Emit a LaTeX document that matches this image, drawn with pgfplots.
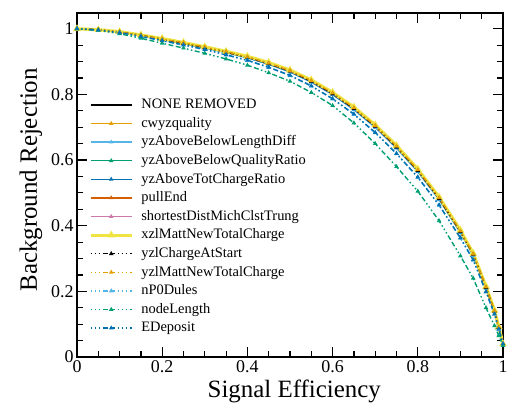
\documentclass[border=0pt]{standalone}
\usepackage{fontspec}
\setmainfont{Liberation Serif}
\usepackage{pgfplots}
\usepackage{pgfplotstable}
\pgfplotsset{compat=1.18}

\definecolor{cBlack}{HTML}{000000}
\definecolor{cOrange}{HTML}{E69F00}
\definecolor{cSky}{HTML}{56B4E9}
\definecolor{cGreen}{HTML}{009E73}
\definecolor{cBlue}{HTML}{0072B2}
\definecolor{cVerm}{HTML}{D55E00}
\definecolor{cPink}{HTML}{CC79A7}
\definecolor{cYellow}{HTML}{F0E442}

% ROC curves: background rejection vs signal efficiency, one column per removed variable
\pgfplotstableread{
x     none  cwyz  ablen abqual atot  pull  short xzl   ystart yzlm  np0   node  edep
0.00  1.000 1.000 1.000 1.000 1.000 1.000 1.000 1.000 1.000 1.000 1.000 1.000 1.000
0.05  0.997 0.997 0.997 0.997 0.997 0.997 0.997 0.997 0.997 0.997 0.996 0.995 0.996
0.10  0.990 0.991 0.990 0.990 0.990 0.991 0.990 0.991 0.990 0.990 0.988 0.985 0.988
0.15  0.980 0.981 0.979 0.980 0.980 0.981 0.980 0.981 0.980 0.980 0.976 0.971 0.977
0.20  0.968 0.969 0.967 0.968 0.968 0.969 0.968 0.970 0.968 0.969 0.963 0.956 0.964
0.25  0.956 0.957 0.955 0.956 0.955 0.957 0.956 0.958 0.956 0.957 0.950 0.941 0.951
0.30  0.943 0.944 0.941 0.943 0.942 0.945 0.943 0.945 0.943 0.944 0.936 0.925 0.937
0.35  0.929 0.930 0.927 0.929 0.928 0.931 0.929 0.931 0.929 0.930 0.920 0.908 0.921
0.40  0.913 0.915 0.911 0.913 0.912 0.915 0.913 0.916 0.913 0.914 0.903 0.889 0.904
0.45  0.894 0.896 0.892 0.894 0.892 0.897 0.894 0.897 0.894 0.895 0.882 0.866 0.883
0.50  0.871 0.873 0.868 0.871 0.869 0.874 0.871 0.874 0.871 0.872 0.857 0.840 0.858
0.55  0.840 0.843 0.837 0.840 0.838 0.844 0.840 0.844 0.840 0.842 0.825 0.806 0.826
0.60  0.802 0.805 0.799 0.802 0.800 0.807 0.802 0.806 0.802 0.804 0.786 0.766 0.787
0.65  0.757 0.760 0.753 0.757 0.755 0.762 0.757 0.761 0.757 0.759 0.739 0.713 0.740
0.70  0.703 0.706 0.699 0.703 0.701 0.709 0.703 0.707 0.703 0.705 0.683 0.650 0.684
0.75  0.640 0.643 0.636 0.640 0.638 0.646 0.640 0.644 0.640 0.642 0.619 0.580 0.620
0.80  0.568 0.571 0.564 0.568 0.566 0.574 0.568 0.572 0.568 0.570 0.547 0.505 0.548
0.85  0.483 0.486 0.479 0.483 0.481 0.488 0.483 0.487 0.483 0.485 0.462 0.415 0.463
0.90  0.382 0.385 0.378 0.382 0.380 0.386 0.382 0.386 0.382 0.384 0.362 0.308 0.363
0.93  0.313 0.315 0.309 0.313 0.311 0.316 0.313 0.316 0.313 0.314 0.295 0.240 0.296
0.96  0.212 0.214 0.209 0.212 0.210 0.215 0.212 0.215 0.212 0.213 0.198 0.150 0.199
0.98  0.140 0.141 0.138 0.140 0.139 0.142 0.140 0.142 0.140 0.141 0.130 0.095 0.131
0.99  0.090 0.091 0.089 0.090 0.089 0.092 0.090 0.092 0.090 0.091 0.084 0.065 0.085
1.00  0.040 0.040 0.040 0.040 0.040 0.040 0.040 0.040 0.040 0.040 0.040 0.035 0.040
}\roc

\tikzset{
  solidroc/.style={solid, line width=1.3bp, mark=triangle*, mark size=1.3bp, mark options={solid}},
  dotroc/.style={line width=1.4bp, mark=triangle*, mark size=1.3bp, mark options={solid},
    dash pattern=on 1.5bp off 2.5bp on 1.5bp off 2.5bp on 1.5bp off 2.5bp on 5bp off 2.5bp on 5bp off 2.5bp},
}

\begin{document}
\begin{tikzpicture}
\begin{axis}[
  scale only axis, width=426bp, height=344bp,
  xmin=0, xmax=1, ymin=0, ymax=1.048,
  xtick={0,0.2,0.4,0.6,0.8,1}, ytick={0,0.2,0.4,0.6,0.8,1},
  minor tick num=3,
  tick align=inside, major tick length=10bp, minor tick length=6bp,
  axis line style={line width=1.4bp},
  every tick/.style={line width=1.2bp, black},
  tick label style={font=\fontsize{18}{18}\selectfont},
  /pgf/number format/assume math mode=true,
  xlabel={Signal Efficiency}, ylabel={Background Rejection},
  label style={font=\fontsize{25}{25}\selectfont},
  xlabel style={at={(axis description cs:0.51,-0.1163)}, anchor=base},
  ylabel style={at={(axis description cs:-0.108,0.515)}, anchor=center},
  legend style={draw=none, fill=none, inner sep=0pt,
    at={(rel axis cs:0.028,0.753)}, anchor=north west,
    font=\fontsize{14.5}{14.5}\selectfont,
    nodes={inner sep=0pt, text height=10.5bp, text depth=3bp},
    row sep=5.1bp, column sep=8bp},
  legend cell align=left,
  legend image code/.code={\draw[mark repeat=2, mark phase=2, #1]
    plot coordinates {(0bp,0bp) (20.5bp,0bp) (41bp,0bp)};},
]
\coordinate (ll) at (rel axis cs:0,0);
\coordinate (ur) at (rel axis cs:1,1);
\addplot[solidroc, color=cBlack, mark=none] table[x=x, y=none] {\roc};
\addlegendentry{NONE REMOVED}
\addplot[solidroc, color=cOrange] table[x=x, y=cwyz] {\roc};
\addlegendentry{cwyzquality}
\addplot[solidroc, color=cSky] table[x=x, y=ablen] {\roc};
\addlegendentry{yzAboveBelowLengthDiff}
\addplot[solidroc, color=cGreen] table[x=x, y=abqual] {\roc};
\addlegendentry{yzAboveBelowQualityRatio}
\addplot[solidroc, color=cBlue] table[x=x, y=atot] {\roc};
\addlegendentry{yzAboveTotChargeRatio}
\addplot[solidroc, color=cVerm] table[x=x, y=pull] {\roc};
\addlegendentry{pullEnd}
\addplot[solidroc, color=cPink] table[x=x, y=short] {\roc};
\addlegendentry{shortestDistMichClstTrung}
\addplot[solidroc, color=cYellow, line width=3.2bp] table[x=x, y=xzl] {\roc};
\addlegendentry{xzlMattNewTotalCharge}
\addplot[dotroc, color=cBlack] table[x=x, y=ystart] {\roc};
\addlegendentry{yzlChargeAtStart}
\addplot[dotroc, color=cOrange] table[x=x, y=yzlm] {\roc};
\addlegendentry{yzlMattNewTotalCharge}
\addplot[dotroc, color=cSky] table[x=x, y=np0] {\roc};
\addlegendentry{nP0Dules}
\addplot[dotroc, color=cGreen] table[x=x, y=node] {\roc};
\addlegendentry{nodeLength}
\addplot[dotroc, color=cBlue] table[x=x, y=edep] {\roc};
\addlegendentry{EDeposit}
\end{axis}
\pgfresetboundingbox
\path ([shift={(-77bp,-49bp)}]ll) rectangle ([shift={(6bp,13bp)}]ur);
\end{tikzpicture}
\end{document}
